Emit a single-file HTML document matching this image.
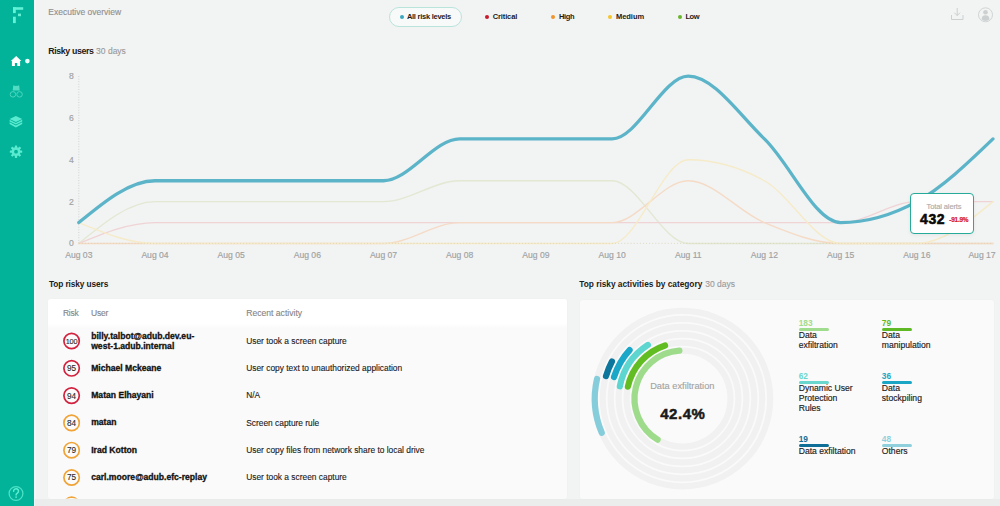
<!DOCTYPE html>
<html><head><meta charset="utf-8">
<style>
*{margin:0;padding:0;box-sizing:border-box}
html,body{width:1000px;height:506px;overflow:hidden;background:#f2f3f3;font-family:"Liberation Sans",sans-serif;color:#1b1b1b}
.t{position:absolute;white-space:nowrap;line-height:1;-webkit-text-stroke:0.12px currentColor}
.b{-webkit-text-stroke:0}
.nm{color:#111;-webkit-text-stroke:0.3px #111}
.b{font-weight:700}
.g{color:#8f8f8f}
#side{position:absolute;left:0;top:0;width:34px;height:506px;background:#02b399}
#sidel{position:absolute;left:34px;top:0;width:1.5px;height:506px;background:#f3f9f8}
#bottomband{position:absolute;left:35px;top:499px;width:965px;height:7px;background:#ebeded}
.pill{position:absolute;left:389px;top:7px;width:73px;height:20px;border:1.1px solid #b9e4dc;border-radius:10px;background:#f8f9f9}
.dot{position:absolute;width:4px;height:4px;border-radius:50%}
.card{position:absolute;background:#fafafa;border-radius:3px;box-shadow:0 0 3px rgba(0,0,0,0.025)}
.circ{position:absolute;width:17px;height:17px;border-radius:50%;border:1.7px solid #d3223f;font-size:8.2px;line-height:1;display:flex;align-items:center;justify-content:center;color:#2a2a2a;background:#fbfbfb;-webkit-text-stroke:0.12px currentColor;padding-top:1.2px}
.circ.o{border-color:#f0a437}
.bar{position:absolute;height:3px;border-radius:2px;width:30px}
.lg{font-size:8.6px;line-height:9.8px;color:#202020;position:absolute;white-space:nowrap;-webkit-text-stroke:0.15px currentColor}
.ln{font-size:8.3px;font-weight:700;position:absolute;line-height:1;white-space:nowrap}
</style></head><body>
<div id="side">
  <svg width="34" height="506" style="position:absolute;left:0;top:0">
    <g fill="#62f2d6">
      <rect x="13" y="7.2" width="10.2" height="2.6"/>
      <rect x="13" y="7.2" width="2.8" height="5.9"/>
      <rect x="18" y="13.6" width="3" height="2.6"/>
      <rect x="13" y="16.7" width="2.8" height="6.4"/>
    </g>
    <path d="M16.2,56.1 L21.4,61 L20.1,61 L20.1,65.9 L17.3,65.9 L17.3,63 L14.9,63 L14.9,65.9 L11.9,65.9 L11.9,61 L10.9,61 Z" fill="#ffffff"/>
    <circle cx="27.4" cy="61.1" r="2.3" fill="#e8fffb"/>
    <g fill="#52dcc4">
      <path d="M12.7,90.6 L13.3,85.3 L15.3,86.1 L16.2,85.7 L17.1,86.1 L19.1,85.3 L19.7,90.6 Z"/>
    </g>
    <g fill="none" stroke="#4cd6be" stroke-width="1">
      <circle cx="12.95" cy="94.35" r="2.75"/>
      <circle cx="19.55" cy="94.35" r="2.75"/>
    </g>
    <g fill="#5aebd0">
      <path d="M15.9,115.9 L22.2,119 L15.9,122.1 L9.6,119 Z"/>
      <path d="M9.6,119.8 L15.9,122.9 L22.2,119.8 L22.2,121.5 L15.9,124.6 L9.6,121.5 Z"/>
      <path d="M9.6,122.3 L15.9,125.4 L22.2,122.3 L22.2,124 L15.9,127.4 L9.6,124 Z"/>
    </g>
    <g transform="translate(16,151.7)" fill="#5aebd0">
      <path fill-rule="evenodd" d="M-4.4,0 A4.4,4.4 0 1 0 4.4,0 A4.4,4.4 0 1 0 -4.4,0 Z M-1.9,0 A1.9,1.9 0 1 1 1.9,0 A1.9,1.9 0 1 1 -1.9,0 Z"/>
      <g>
        <rect x="-1.15" y="-6.2" width="2.3" height="3" rx="0.4"/>
        <rect x="-1.15" y="-6.2" width="2.3" height="3" rx="0.4" transform="rotate(45)"/>
        <rect x="-1.15" y="-6.2" width="2.3" height="3" rx="0.4" transform="rotate(90)"/>
        <rect x="-1.15" y="-6.2" width="2.3" height="3" rx="0.4" transform="rotate(135)"/>
        <rect x="-1.15" y="-6.2" width="2.3" height="3" rx="0.4" transform="rotate(180)"/>
        <rect x="-1.15" y="-6.2" width="2.3" height="3" rx="0.4" transform="rotate(225)"/>
        <rect x="-1.15" y="-6.2" width="2.3" height="3" rx="0.4" transform="rotate(270)"/>
        <rect x="-1.15" y="-6.2" width="2.3" height="3" rx="0.4" transform="rotate(315)"/>
      </g>
    </g>
    <circle cx="16" cy="493.5" r="6.9" fill="none" stroke="#4fe2c8" stroke-width="1.25"/>
    <path d="M13.6,491.2 A2.45,2.45 0 1 1 17.4,493.2 Q16.1,493.9 16.1,495" fill="none" stroke="#5cefd3" stroke-width="1.5" stroke-linecap="round"/>
    <circle cx="16.1" cy="497.1" r="0.9" fill="#5cefd3"/>
  </svg>
</div>
<div id="sidel"></div>

<!-- header -->
<div class="t g" style="left:48.3px;top:8.2px;font-size:8.5px;color:#8e8e8e">Executive overview</div>
<div class="pill"></div>
<div class="dot" style="left:399.5px;top:15px;background:#3aa8c1"></div>
<div class="t b" style="left:406.9px;top:13.1px;font-size:7.5px;letter-spacing:-0.26px">All risk levels</div>
<div class="dot" style="left:484.8px;top:15.1px;background:#c81b30"></div>
<div class="t b" style="left:492.8px;top:13.1px;font-size:7.5px;letter-spacing:-0.14px">Critical</div>
<div class="dot" style="left:551px;top:15.1px;background:#f0952e"></div>
<div class="t b" style="left:558.9px;top:13.1px;font-size:7.5px;letter-spacing:-0.3px">High</div>
<div class="dot" style="left:608.2px;top:15.1px;background:#f5c52a"></div>
<div class="t b" style="left:616px;top:13.1px;font-size:7.5px;letter-spacing:-0.05px">Medium</div>
<div class="dot" style="left:677.5px;top:15.1px;background:#6ab52c"></div>
<div class="t b" style="left:685.4px;top:13.1px;font-size:7.5px;letter-spacing:-0.45px">Low</div>

<svg width="1000" height="40" style="position:absolute;left:0;top:0">
  <g fill="none" stroke="#cdd0d0" stroke-width="1">
    <path d="M957.2,8 L957.2,15.5 M954.3,12.7 L957.2,15.6 L960.1,12.7"/>
    <path d="M951.5,15 L951.5,19.5 L963,19.5 L963,15"/>
    <circle cx="985.5" cy="14.8" r="7" stroke-width="0.9"/>
  </g>
  <g fill="#ccd0d0">
    <circle cx="985.5" cy="12.2" r="2.3"/>
    <path d="M981.6,19.6 Q981.6,15.3 985.5,15.3 Q989.4,15.3 989.4,19.6 Q987.7,21 985.5,21 Q983.3,21 981.6,19.6 Z"/>
  </g>
</svg>

<div class="t b" style="left:48.3px;top:46.8px;font-size:8.8px;letter-spacing:-0.38px">Risky users</div>
<div class="t g" style="left:96.1px;top:46.8px;font-size:8.5px;color:#9a9a9a">30 days</div>

<!-- chart -->
<svg width="1000" height="270" style="position:absolute;left:0;top:0">
  <line x1="78.8" y1="76" x2="78.8" y2="243.2" stroke="#c9cccc" stroke-width="0.8" stroke-dasharray="1 1.6"/>
  
  <g fill="none" stroke-width="1.4" stroke-linecap="round">
    <path d="M78.80,243.50C104.19,222.58 129.59,201.66 154.98,201.66C180.37,201.66 205.77,201.66 231.16,201.66C256.55,201.66 281.95,201.66 307.34,201.66C332.73,201.66 358.13,201.66 383.52,201.66C408.91,201.66 434.31,180.74 459.70,180.74C485.09,180.74 510.49,180.74 535.88,180.74C561.27,180.74 586.67,180.74 612.06,180.74C637.45,180.74 662.85,243.50 688.24,243.50C713.63,243.50 739.03,243.50 764.42,243.50C789.81,243.50 815.21,243.50 840.60,243.50C865.99,243.50 891.39,243.50 916.78,243.50C942.17,243.50 967.57,243.50 992.96,243.50" stroke="#e2e8d2"/>
    <path d="M78.80,243.50C104.19,233.04 129.59,222.58 154.98,222.58C180.37,222.58 205.77,222.58 231.16,222.58C256.55,222.58 281.95,222.58 307.34,222.58C332.73,222.58 358.13,222.58 383.52,222.58C408.91,222.58 434.31,222.58 459.70,222.58C485.09,222.58 510.49,222.58 535.88,222.58C561.27,222.58 586.67,222.58 612.06,222.58C637.45,222.58 662.85,222.58 688.24,222.58C713.63,222.58 739.03,222.58 764.42,222.58C789.81,222.58 815.21,222.58 840.60,222.58C865.99,222.58 891.39,201.66 916.78,201.66C942.17,201.66 967.57,201.66 992.96,201.66" stroke="#f0d3d5"/>
    <path d="M78.80,243.50C104.19,243.50 129.59,243.50 154.98,243.50C180.37,243.50 205.77,243.50 231.16,243.50C256.55,243.50 281.95,243.50 307.34,243.50C332.73,243.50 358.13,243.50 383.52,243.50C408.91,243.50 434.31,222.58 459.70,222.58C485.09,222.58 510.49,222.58 535.88,222.58C561.27,222.58 586.67,222.58 612.06,222.58C637.45,222.58 662.85,180.74 688.24,180.74C713.63,180.74 739.03,212.12 764.42,222.58C789.81,233.04 815.21,243.50 840.60,243.50C865.99,243.50 891.39,243.50 916.78,243.50C942.17,243.50 967.57,243.50 992.96,243.50" stroke="#f5dbc6"/>
    <path d="M78.80,222.58C104.19,233.04 129.59,243.50 154.98,243.50C180.37,243.50 205.77,243.50 231.16,243.50C256.55,243.50 281.95,243.50 307.34,243.50C332.73,243.50 358.13,243.50 383.52,243.50C408.91,243.50 434.31,243.50 459.70,243.50C485.09,243.50 510.49,243.50 535.88,243.50C561.27,243.50 586.67,243.50 612.06,243.50C637.45,243.50 662.85,159.82 688.24,159.82C713.63,159.82 739.03,166.79 764.42,180.74C789.81,194.69 815.21,243.50 840.60,243.50C865.99,243.50 891.39,243.50 916.78,243.50C942.17,243.50 967.57,222.58 992.96,201.66" stroke="#f6ebc8"/>
  </g>
  <line x1="78.8" y1="243.4" x2="993" y2="243.4" stroke="#d9cfae" stroke-width="0.9" stroke-dasharray="0.9 2.2" opacity="0.8"/>
  <path d="M78.80,222.58C104.19,201.66 129.59,180.74 154.98,180.74C180.37,180.74 205.77,180.74 231.16,180.74C256.55,180.74 281.95,180.74 307.34,180.74C332.73,180.74 358.13,180.74 383.52,180.74C408.91,180.74 434.31,138.90 459.70,138.90C485.09,138.90 510.49,138.90 535.88,138.90C561.27,138.90 586.67,138.90 612.06,138.90C637.45,138.90 662.85,76.14 688.24,76.14C713.63,76.14 739.03,114.49 764.42,138.90C789.81,163.31 815.21,222.58 840.60,222.58C865.99,222.58 891.39,215.61 916.78,201.66C942.17,187.71 967.57,163.31 992.96,138.90" fill="none" stroke="#5cb4c9" stroke-width="3.3" stroke-linecap="round"/>
  <g font-family="Liberation Sans" font-size="8.6" fill="#a0a2a2" stroke="#a0a2a2" stroke-width="0.15" text-anchor="end">
    <text x="73.8" y="79.1">8</text>
    <text x="73.8" y="120.9">6</text>
    <text x="73.8" y="162.7">4</text>
    <text x="73.8" y="204.5">2</text>
    <text x="73.8" y="246.3">0</text>
  </g>
  <g font-family="Liberation Sans" font-size="8.6" fill="#a0a2a2" stroke="#a0a2a2" stroke-width="0.15" text-anchor="middle">
    <text x="78.8" y="258.2">Aug 03</text>
    <text x="155" y="258.2">Aug 04</text>
    <text x="231.2" y="258.2">Aug 05</text>
    <text x="307.3" y="258.2">Aug 06</text>
    <text x="383.5" y="258.2">Aug 07</text>
    <text x="459.7" y="258.2">Aug 08</text>
    <text x="535.9" y="258.2">Aug 09</text>
    <text x="612.1" y="258.2">Aug 10</text>
    <text x="688.3" y="258.2">Aug 11</text>
    <text x="764.4" y="258.2">Aug 12</text>
    <text x="840.6" y="258.2">Aug 15</text>
    <text x="916.8" y="258.2">Aug 16</text>
    <text x="982" y="258.2">Aug 17</text>
  </g>
</svg>

<!-- tooltip -->
<div style="position:absolute;left:910.4px;top:193.1px;width:63.6px;height:41px;border:1.5px solid #26ab9b;border-radius:4px;background:#ffffff;box-shadow:0 1px 4px rgba(0,0,0,0.06)"></div>
<div class="t" style="left:926.6px;top:203.3px;font-size:7.5px;letter-spacing:-0.12px;color:#a9a9a9">Total alerts</div>
<div class="t b" style="left:920px;top:211.8px;font-size:14px;color:#0a0a0a;letter-spacing:0.6px;-webkit-text-stroke:0.55px #0a0a0a">432</div>
<div class="t b" style="left:949.3px;top:216.5px;font-size:6.4px;color:#d8182c;letter-spacing:-0.2px;-webkit-text-stroke:0.22px #d8182c">-91.9%</div>

<!-- bottom -->
<div id="bottomband"></div>
<div class="t b" style="left:49px;top:279.9px;font-size:8.3px;letter-spacing:-0.1px">Top risky users</div>
<div class="card" style="left:48px;top:299px;width:518.5px;height:199.5px"></div>
<div class="card" style="left:48px;top:299px;width:518.5px;height:29px;background:linear-gradient(#ffffff 0,#ffffff 24.5px,#fafafa 29px);border-radius:3px 3px 0 0;box-shadow:none"></div>
<div class="t" style="left:63px;top:308.5px;font-size:8.5px;letter-spacing:-0.3px;color:#858585">Risk</div>
<div class="t" style="left:91px;top:308.5px;font-size:8.5px;letter-spacing:-0.2px;color:#858585">User</div>
<div class="t" style="left:246.2px;top:308.5px;font-size:8.6px;color:#858585">Recent activity</div>

<svg width="1000" height="506" style="position:absolute;left:0;top:0">
<defs><clipPath id="tc"><rect x="48" y="326" width="518.5" height="172.5"/></clipPath></defs>
<g clip-path="url(#tc)" fill="#fbfbfb" stroke-width="1.7">
<circle cx="71.6" cy="341.0" r="7.7" stroke="#d3223f"/>
<circle cx="71.6" cy="368.3" r="7.7" stroke="#d3223f"/>
<circle cx="71.6" cy="395.6" r="7.7" stroke="#d3223f"/>
<circle cx="71.6" cy="422.9" r="7.7" stroke="#f0a437"/>
<circle cx="71.6" cy="450.2" r="7.7" stroke="#f0a437"/>
<circle cx="71.6" cy="477.5" r="7.7" stroke="#f0a437"/>
<circle cx="71.6" cy="504.8" r="7.7" stroke="#f0a437"/>
</g>
<text x="71.6" y="343.9" text-anchor="middle" font-family="Liberation Sans" font-size="7.3" letter-spacing="-0.1" fill="#2a2a2a" stroke="#2a2a2a" stroke-width="0.12">100</text>
<text x="71.6" y="371.2" text-anchor="middle" font-family="Liberation Sans" font-size="8.2" letter-spacing="0" fill="#2a2a2a" stroke="#2a2a2a" stroke-width="0.12">95</text>
<text x="71.6" y="398.5" text-anchor="middle" font-family="Liberation Sans" font-size="8.2" letter-spacing="0" fill="#2a2a2a" stroke="#2a2a2a" stroke-width="0.12">94</text>
<text x="71.6" y="425.8" text-anchor="middle" font-family="Liberation Sans" font-size="8.2" letter-spacing="0" fill="#2a2a2a" stroke="#2a2a2a" stroke-width="0.12">84</text>
<text x="71.6" y="453.1" text-anchor="middle" font-family="Liberation Sans" font-size="8.2" letter-spacing="0" fill="#2a2a2a" stroke="#2a2a2a" stroke-width="0.12">79</text>
<text x="71.6" y="480.4" text-anchor="middle" font-family="Liberation Sans" font-size="8.2" letter-spacing="0" fill="#2a2a2a" stroke="#2a2a2a" stroke-width="0.12">75</text>
</svg>
</div>

<div class="t b nm" style="left:91.2px;top:330.5px;font-size:8.6px;line-height:10.8px;white-space:normal;width:120px">billy.talbot@adub.dev.eu-<br>west-1.adub.internal</div>
<div class="t b nm" style="left:91.2px;top:363.8px;font-size:8.6px">Michael Mckeane</div>
<div class="t b nm" style="left:91.2px;top:391.1px;font-size:8.6px">Matan Elhayani</div>
<div class="t b nm" style="left:91.2px;top:418.4px;font-size:8.6px">matan</div>
<div class="t b nm" style="left:91.2px;top:445.7px;font-size:8.6px">Irad Kotton</div>
<div class="t b nm" style="left:91.2px;top:473.0px;font-size:8.6px">carl.moore@adub.efc-replay</div>

<div class="t" style="left:246.2px;top:336.8px;font-size:8.4px">User took a screen capture</div>
<div class="t" style="left:246.2px;top:364.1px;font-size:8.4px">User copy text to unauthorized application</div>
<div class="t" style="left:246.2px;top:391.4px;font-size:8.4px">N/A</div>
<div class="t" style="left:246.2px;top:418.7px;font-size:8.4px">Screen capture rule</div>
<div class="t" style="left:246.2px;top:446px;font-size:8.4px">User copy files from network share to local drive</div>
<div class="t" style="left:246.2px;top:473.3px;font-size:8.4px">User took a screen capture</div>

<div class="t b" style="left:579.3px;top:280.2px;font-size:8.3px">Top risky activities by category</div>
<div class="t g" style="left:705.2px;top:279.8px;font-size:8.5px;color:#9a9a9a">30 days</div>
<div class="card" style="left:580px;top:300px;width:414px;height:199px"></div>

<svg width="1000" height="506" style="position:absolute;left:0;top:0">
<circle cx="682.5" cy="398.6" r="48.0" fill="none" stroke="#f1f1f1" stroke-width="6.2"/><circle cx="682.5" cy="398.6" r="55.9" fill="none" stroke="#f1f1f1" stroke-width="6.2"/><circle cx="682.5" cy="398.6" r="63.85" fill="none" stroke="#f1f1f1" stroke-width="6.2"/><circle cx="682.5" cy="398.6" r="71.8" fill="none" stroke="#f1f1f1" stroke-width="6.2"/><circle cx="682.5" cy="398.6" r="79.75" fill="none" stroke="#f1f1f1" stroke-width="6.2"/><circle cx="682.5" cy="398.6" r="87.7" fill="none" stroke="#f1f1f1" stroke-width="6.2"/><path d="M679.40,350.70A48.0,48.0 0 0 0 657.63,439.66" fill="none" stroke="#9edc8c" stroke-width="6.2" stroke-linecap="round"/><path d="M665.06,345.49A55.9,55.9 0 0 0 627.89,386.65" fill="none" stroke="#62bd22" stroke-width="6.2" stroke-linecap="round"/><path d="M647.93,344.92A63.85,63.85 0 0 0 619.85,386.29" fill="none" stroke="#5dd6cf" stroke-width="6.2" stroke-linecap="round"/><path d="M629.59,350.07A71.8,71.8 0 0 0 614.01,377.04" fill="none" stroke="#1aa7c8" stroke-width="6.2" stroke-linecap="round"/><path d="M611.94,361.44A79.75,79.75 0 0 0 605.99,376.09" fill="none" stroke="#0c769c" stroke-width="6.2" stroke-linecap="round"/><path d="M597.04,378.91A87.7,87.7 0 0 0 601.76,432.83" fill="none" stroke="#86cddc" stroke-width="6.2" stroke-linecap="round"/>
</svg>
<div class="t" style="left:650.2px;top:381.8px;font-size:9.25px;color:#a2a2a2">Data exfiltration</div>
<div class="t b" style="left:660.2px;top:406.3px;font-size:15px;color:#1a1a1a;letter-spacing:0.55px;-webkit-text-stroke:0.5px #1a1a1a">42.4%</div>

<!-- legend -->
<div class="ln" style="left:798.7px;top:318.9px;color:#a2db90">183</div>
<div class="bar" style="left:798.7px;top:327.5px;background:#a0dc8e"></div>
<div class="lg" style="left:798.7px;top:331px">Data<br>exfiltration</div>
<div class="ln" style="left:881.8px;top:318.9px;color:#5eb924">79</div>
<div class="bar" style="left:881.8px;top:327.5px;background:#5eb924"></div>
<div class="lg" style="left:881.8px;top:331px">Data<br>manipulation</div>

<div class="ln" style="left:798.7px;top:371.8px;color:#6ad7cf">62</div>
<div class="bar" style="left:798.7px;top:381px;background:#6ad7cf"></div>
<div class="lg" style="left:798.7px;top:384.3px">Dynamic User<br>Protection<br>Rules</div>
<div class="ln" style="left:881.8px;top:371.8px;color:#1ba6c5">36</div>
<div class="bar" style="left:881.8px;top:381px;background:#1ba6c5"></div>
<div class="lg" style="left:881.8px;top:384.3px">Data<br>stockpiling</div>

<div class="ln" style="left:798.7px;top:435.4px;color:#0f6f96">19</div>
<div class="bar" style="left:798.7px;top:444px;background:#0f6f96"></div>
<div class="lg" style="left:798.7px;top:447.4px">Data exfiltation</div>
<div class="ln" style="left:881.8px;top:435.4px;color:#8fd0dc">48</div>
<div class="bar" style="left:881.8px;top:444px;background:#8fd0dc"></div>
<div class="lg" style="left:881.8px;top:447.4px">Others</div>
</body></html>
